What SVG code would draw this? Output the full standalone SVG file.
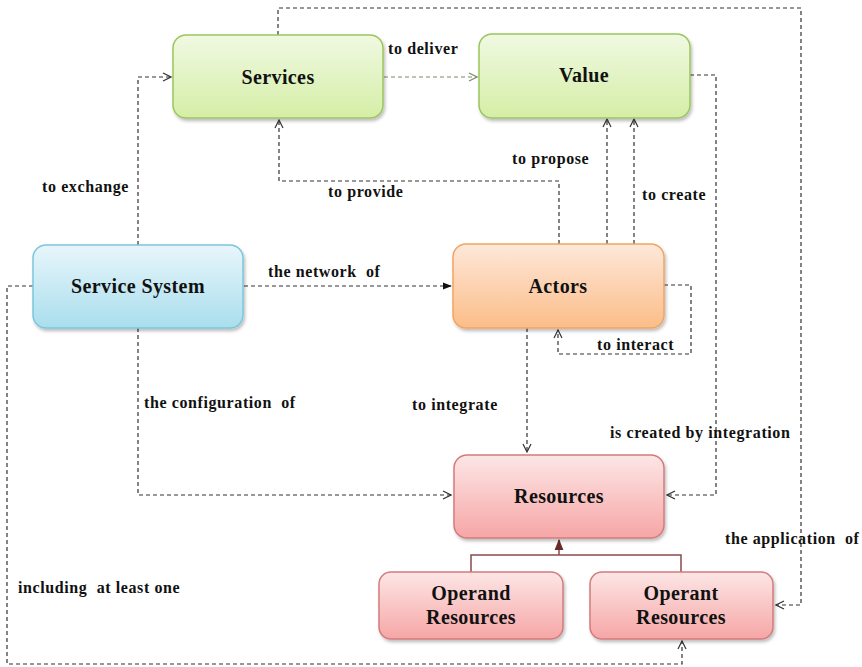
<svg xmlns="http://www.w3.org/2000/svg" width="862" height="667" viewBox="0 0 862 667">
<style>
.box{stroke-width:1.5}
.title{font-family:"Liberation Serif","Times New Roman",serif;font-weight:bold;font-size:20px;letter-spacing:0.4px;fill:#111;text-anchor:middle}
.lbl{font-family:"Liberation Serif","Times New Roman",serif;font-weight:bold;font-size:16px;letter-spacing:0.6px;fill:#111;white-space:pre}
.dash{fill:none;stroke:#333;stroke-width:1.2;stroke-dasharray:4 3}
.dashg{fill:none;stroke:#7d8a6a;stroke-width:1.2;stroke-dasharray:4 3}
.solid{fill:none;stroke:#8a4a4a;stroke-width:1.5}
</style>
<defs>
<linearGradient id="gGreen" x1="0" y1="0" x2="0" y2="1"><stop offset="0" stop-color="#f0f9e2"/><stop offset="1" stop-color="#d5eea6"/></linearGradient>
<linearGradient id="gBlue" x1="0" y1="0" x2="0" y2="1"><stop offset="0" stop-color="#e8f6fb"/><stop offset="1" stop-color="#a9deed"/></linearGradient>
<linearGradient id="gOrange" x1="0" y1="0" x2="0" y2="1"><stop offset="0" stop-color="#fee8da"/><stop offset="1" stop-color="#fbbd88"/></linearGradient>
<linearGradient id="gRed" x1="0" y1="0" x2="0" y2="1"><stop offset="0" stop-color="#fde6e6"/><stop offset="1" stop-color="#f6a6a6"/></linearGradient>
<filter id="sh" x="-10%" y="-10%" width="125%" height="130%"><feDropShadow dx="1.5" dy="2.5" stdDeviation="1.8" flood-color="#000" flood-opacity="0.25"/></filter>
<marker id="open" viewBox="0 0 10 10" refX="9" refY="5" markerWidth="10" markerHeight="10" markerUnits="userSpaceOnUse" orient="auto"><path d="M1,1 L9,5 L1,9" fill="none" stroke="#333" stroke-width="1.2"/></marker>
<marker id="openg" viewBox="0 0 10 10" refX="9" refY="5" markerWidth="10" markerHeight="10" markerUnits="userSpaceOnUse" orient="auto"><path d="M1,1 L9,5 L1,9" fill="none" stroke="#7d8a6a" stroke-width="1.2"/></marker>
<marker id="fill" viewBox="0 0 10 10" refX="9" refY="5" markerWidth="9" markerHeight="9" markerUnits="userSpaceOnUse" orient="auto"><path d="M0,1 L10,5 L0,9 Z" fill="#111"/></marker>
<marker id="fillr" viewBox="0 0 10 10" refX="9" refY="5" markerWidth="11" markerHeight="11" markerUnits="userSpaceOnUse" orient="auto"><path d="M0,1 L10,5 L0,9 Z" fill="#6b2a2a"/></marker>
</defs>

<g id="connectors">
<path class="dashg" d="M384,77 L477,77" marker-end="url(#openg)"/>
<path class="dash" d="M138,245 L138,77 L171,77" marker-end="url(#open)"/>
<path class="dash" d="M278,35 L278,8 L801,8 L801,605 L776,605" marker-end="url(#open)"/>
<path class="dash" d="M690,75 L716,75 L716,495 L667,495" marker-end="url(#open)"/>
<path class="dash" d="M559,244 L559,181 L279,181 L279,120" marker-end="url(#open)"/>
<path class="dash" d="M607,244 L607,119" marker-end="url(#open)"/>
<path class="dash" d="M634,244 L634,119" marker-end="url(#open)"/>
<path class="dash" d="M244,286 L451,286" marker-end="url(#fill)"/>
<path class="dash" d="M664,285 L691,285 L691,354 L558,354 L558,330" marker-end="url(#open)"/>
<path class="dash" d="M527,328 L527,452" marker-end="url(#open)"/>
<path class="dash" d="M138,328 L138,495 L451,495" marker-end="url(#open)"/>
<path class="dash" d="M33,286 L7,286 L7,664 L682,664 L682,641" marker-end="url(#open)"/>
<path class="solid" d="M471,572 L471,555 L681,555 L681,572 M559,555 L559,540" marker-end="url(#fillr)"/>
</g>

<g id="services"><rect class="box" x="173" y="35" width="210" height="83" rx="13" fill="url(#gGreen)" stroke="#9cc55e" filter="url(#sh)"/><text class="title" x="278" y="84">Services</text></g>
<g id="value"><rect class="box" x="479" y="34" width="211" height="84" rx="13" fill="url(#gGreen)" stroke="#9cc55e" filter="url(#sh)"/><text class="title" x="584" y="82">Value</text></g>
<g id="service-system"><rect class="box" x="33" y="245" width="210" height="83" rx="13" fill="url(#gBlue)" stroke="#7cc6dc" filter="url(#sh)"/><text class="title" x="138" y="293">Service System</text></g>
<g id="actors"><rect class="box" x="453" y="244" width="211" height="84" rx="13" fill="url(#gOrange)" stroke="#f2a464" filter="url(#sh)"/><text class="title" x="558" y="293">Actors</text></g>
<g id="resources"><rect class="box" x="454" y="455" width="210" height="83" rx="13" fill="url(#gRed)" stroke="#d27c7c" filter="url(#sh)"/><text class="title" x="559" y="503">Resources</text></g>
<g id="operand-resources"><rect class="box" x="379" y="572" width="184" height="67" rx="12" fill="url(#gRed)" stroke="#d27c7c" filter="url(#sh)"/><text class="title" x="471" y="600">Operand</text><text class="title" x="471" y="624">Resources</text></g>
<g id="operant-resources"><rect class="box" x="590" y="572" width="183" height="67" rx="12" fill="url(#gRed)" stroke="#d27c7c" filter="url(#sh)"/><text class="title" x="681" y="600">Operant</text><text class="title" x="681" y="624">Resources</text></g>

<g id="labels">
<text class="lbl" x="388" y="54">to deliver</text>
<text class="lbl" x="42" y="192">to exchange</text>
<text class="lbl" x="328" y="197">to provide</text>
<text class="lbl" x="512" y="164">to propose</text>
<text class="lbl" x="642" y="200">to create</text>
<text class="lbl" x="268" y="277">the network  of</text>
<text class="lbl" x="597" y="350">to interact</text>
<text class="lbl" x="144" y="408">the configuration  of</text>
<text class="lbl" x="412" y="410">to integrate</text>
<text class="lbl" x="610" y="438">is created by integration</text>
<text class="lbl" x="725" y="544">the application  of</text>
<text class="lbl" x="18" y="593">including  at least one</text>
</g>
</svg>
